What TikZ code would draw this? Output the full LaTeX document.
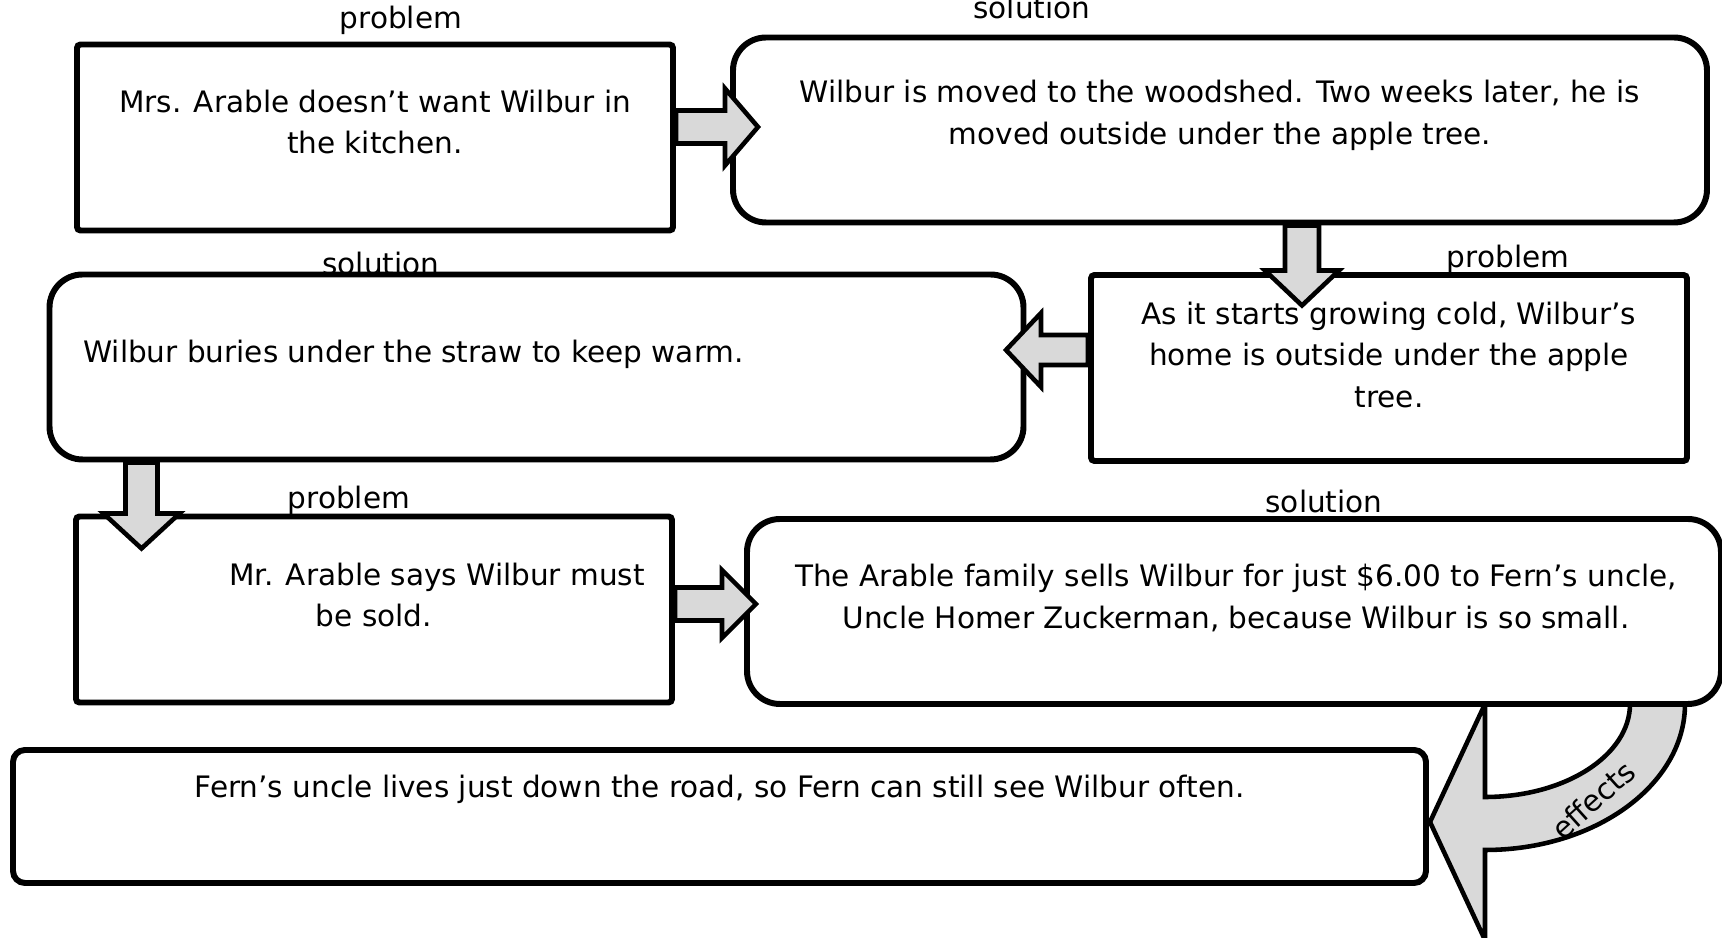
\documentclass[tikz,border=0pt]{standalone}
\usepackage{fontspec}
\setmainfont{DejaVu Sans}
\usetikzlibrary{calc}

\definecolor{arrowgrey}{RGB}{217,217,217}
\newcommand{\chartfont}{\fontsize{8.4}{11.9}\selectfont}

\tikzset{
	probbox/.style={draw, line width=1.7pt, fill=white, rounded corners=1pt,
		minimum width=5.96cm, minimum height=1.86cm, inner sep=0pt},
	solbox/.style={draw, line width=1.7pt, fill=white, rounded corners=0.33cm,
		minimum width=9.74cm, minimum height=1.85cm, inner sep=0pt},
	effbox/.style={draw, line width=1.7pt, fill=white, rounded corners=0.12cm,
		minimum width=14.13cm, minimum height=1.33cm, inner sep=0pt},
	boxtext/.style={font=\chartfont, align=center, inner sep=0pt},
	tag/.style={font=\chartfont, inner sep=0pt},
	blockarrow/.style={draw, line width=1.3pt, fill=arrowgrey, line join=miter}
}

\begin{document}
\begin{tikzpicture}
	\useasboundingbox (0,0) rectangle (17.22,9.38);
	
	% curved arrow, behind the last solution box
	\coordinate (bend) at (14.85,2.34);
	\draw[blockarrow] ($(bend)+(1.45,0)$) arc[start angle=0, end angle=-90, x radius=1.45, y radius=0.93]
	-- ++(0,0.93) -- ++(-0.55,-1.18) -- ++(0.55,-1.18) -- ++(0,0.90)
	arc[start angle=-90, end angle=0, x radius=2.00, y radius=1.46] -- cycle;
	
	% boxes
	\node[probbox] (prob1) at (3.75,8.005) {};
	\node[solbox] (sol1) at (12.2,8.08) {};
	\node[probbox] (prob2) at (13.89,5.70) {};
	\node[solbox] (sol2) at (5.365,5.71) {};
	\node[probbox] (prob3) at (3.74,3.285) {};
	\node[solbox] (sol3) at (12.34,3.265) {};
	\node[effbox] (eff) at (7.195,1.215) {};
	
	% texts
	\node[boxtext] (prob1txt) at ($(prob1)+(0,0.155)$) {Mrs. Arable doesn’t want Wilbur in\\the kitchen.};
	\node[boxtext] (sol1txt) at ($(sol1)+(0,0.15)$) {Wilbur is moved to the woodshed. Two weeks later, he is\\moved outside under the apple tree.};
	\node[boxtext] (prob2txt) at ($(prob2)+(0,0.13)$) {As it starts growing cold, Wilbur’s\\home is outside under the apple\\tree.};
	\node[boxtext, anchor=west] (sol2txt) at ($(sol2.west)+(0.36,0.13)$) {Wilbur buries under the straw to keep warm.};
	\node[boxtext] (prob3txt) at ($(prob3)+(0,0.145)$) {\hspace*{1.26cm}Mr. Arable says Wilbur must\\be sold.};
	\node[boxtext] (sol3txt) at ($(sol3)+(0.02,0.135)$) {The Arable family sells Wilbur for just \$6.00 to Fern’s uncle,\\Uncle Homer Zuckerman, because Wilbur is so small.};
	\node[boxtext] (efftxt) at ($(eff)+(0,0.275)$) {Fern’s uncle lives just down the road, so Fern can still see Wilbur often.};
	
	% labels
	\node[tag] (prob1lbl) at (4.01,9.18) {problem};
	\node[tag] (sol1lbl) at (10.32,9.30) {solution};
	\node[tag] (sol2lbl) at (3.81,6.74) {solution};
	\node[tag] (prob2lbl) at (15.08,6.79) {problem};
	\node[tag] (prob3lbl) at (3.49,4.38) {problem};
	\node[tag] (sol3lbl) at (13.24,4.36) {solution};
	\node[tag, rotate=42] (efflbl) at (15.93,1.38) {effects};
	
	% block arrows
	\draw[blockarrow] ($(prob1.east)+(0,0.27)$) -- ++(0.49,0) -- ++(0,0.22) -- ++(0.33,-0.385)
	-- ++(-0.33,-0.385) -- ++(0,0.22) -- ++(-0.49,0) -- cycle;
	\draw[blockarrow] ($(sol1.south)+(0.65,0)$) -- ++(0,-0.45) -- ++(-0.20,0) -- ++(0.37,-0.35)
	-- ++(0.37,0.35) -- ++(-0.20,0) -- ++(0,0.45) -- cycle;
	\draw[blockarrow] ($(prob2.west)+(0,0.33)$) -- ++(-0.47,0) -- ++(0,0.22) -- ++(-0.35,-0.37)
	-- ++(0.35,-0.37) -- ++(0,0.22) -- ++(0.47,0) -- cycle;
	\draw[blockarrow] ($(sol2.south west)+(0.79,0)$) -- ++(0,-0.51) -- ++(-0.22,0) -- ++(0.38,-0.35)
	-- ++(0.38,0.35) -- ++(-0.22,0) -- ++(0,0.51) -- cycle;
	\draw[blockarrow] ($(prob3.east)+(0,0.22)$) -- ++(0.47,0) -- ++(0,0.175) -- ++(0.34,-0.34)
	-- ++(-0.34,-0.34) -- ++(0,0.175) -- ++(-0.47,0) -- cycle;
	
\end{tikzpicture}
\end{document}
